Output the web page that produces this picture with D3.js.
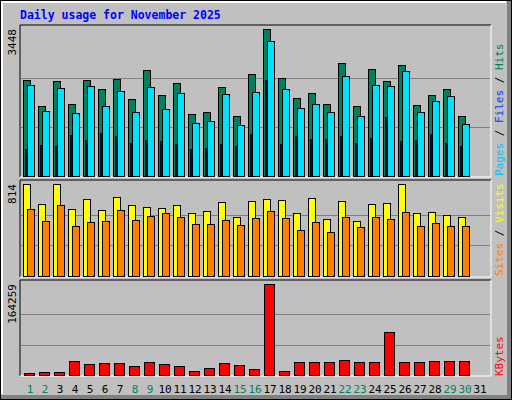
<!DOCTYPE html>
<html><head><meta charset="utf-8">
<script src="https://cdn.jsdelivr.net/npm/d3@7"></script>
<style>body{margin:0;background:#fff}</style>
</head><body><div id="chart"></div>
<script>
const days = d3.range(1, 32);
const weekend = [1, 2, 8, 9, 15, 16, 22, 23, 29, 30];
const hits = [2251,1642,2228,1689,2251,2041,2275,1806,2486,1900,2181,1454,1501,2088,1407,2392,3448,2298,1830,1947,1689,2650,1642,2509,2228,2603,1665,1900,2041,1407];
const files = [2134,1524,2064,1477,2111,1642,1994,1501,2088,1571,1947,1243,1290,1923,1196,1970,3166,2041,1595,1689,1501,2345,1407,2134,2111,2462,1501,1759,1877,1220];
const pages = [633,727,704,962,844,1009,938,774,844,821,751,633,657,751,704,985,2251,751,938,868,868,938,774,891,1383,821,844,985,774,704];
const visits = [814,637,814,593,681,584,699,628,611,602,628,557,575,655,522,664,681,672,557,690,504,664,487,637,646,814,557,566,540,522];
const sites = [593,487,628,443,478,487,584,496,531,557,522,460,460,496,452,510,575,513,407,478,389,522,434,522,504,566,443,469,443,443];
const kbytes = [4197,5996,5996,25778,20382,22181,22181,16785,23980,20382,16785,7794,13189,22181,18584,11390,164259,7794,23980,23980,23980,27577,23980,23980,77938,23980,23980,25778,25778,25778];
const panels = [
  {max: 3448, top: 25, bottom: 177, label: 3448},
  {max: 814, top: 180, bottom: 277, label: 814},
  {max: 164259, top: 280, bottom: 376, label: 164259}
];

const W = 512, H = 400, left = 20, right = 491;
const svg = d3.select('#chart').append('svg').attr('width', W).attr('height', H)
  .style('font-family', 'DejaVu Sans Mono, monospace');

// frame
svg.append('rect').attr('width', W).attr('height', H).attr('fill', '#c0c0c0');
svg.append('path').attr('d', `M${W-1},0V${H-1}H0`).attr('stroke', '#808080').attr('stroke-width', 8).attr('fill', 'none');
svg.append('rect').attr('x', 0.5).attr('y', 0.5).attr('width', W - 1).attr('height', H - 1).attr('fill', 'none').attr('stroke', '#000');
svg.append('path').attr('d', `M2,${H-6}V2H${W-6}`).attr('stroke', '#fff').attr('stroke-width', 2).attr('fill', 'none');
svg.append('text').attr('x', 20).attr('y', 19).attr('fill', '#0000ff')
  .attr('font-size', 11.5).attr('font-weight', 'bold').text('Daily usage for November 2025');

const x = d3.scaleBand().domain(days).range([left + 3, left + 3 + 15 * 31]);

function panel(p, series) {
  const y = d3.scaleLinear().domain([0, p.max]).range([p.bottom - 1, p.top + 4]);
  const g = svg.append('g');
  g.append('path').attr('d', `M${left},${p.bottom}V${p.top}H${right}`).attr('stroke', '#000').attr('fill', 'none');
  g.append('path').attr('d', `M${right},${p.top}V${p.bottom}H${left}`).attr('stroke', '#fff').attr('fill', 'none');
  [1 / 3, 2 / 3].forEach(f => g.append('line').attr('x1', left + 1).attr('x2', right - 1)
    .attr('y1', Math.round(y(p.max * f)) + 0.5).attr('y2', Math.round(y(p.max * f)) + 0.5)
    .attr('stroke', '#808080'));
  g.append('text').attr('transform', `translate(16,${p.top + 4}) rotate(-90)`)
    .attr('text-anchor', 'end').attr('font-size', 11).text(p.label);
  series.forEach(s => {
    g.selectAll(null).data(s.data).enter().append('rect')
      .attr('x', (d, i) => x(days[i]) + s.dx + 0.5)
      .attr('width', s.w)
      .attr('y', d => Math.round(y(d)) + 0.5)
      .attr('height', d => p.bottom - 1 - Math.round(y(d)))
      .attr('fill', s.color).attr('stroke', '#000').attr('stroke-width', s.sw || 1);
  });
}

panel(panels[0], [
  {data: hits, dx: 0, w: 7, color: '#00805c'},
  {data: files, dx: 4, w: 7, color: '#00e0ff'},
  {data: pages, dx: 2, w: 1, color: '#0040ff', sw: 0.8}
]);
panel(panels[1], [
  {data: visits, dx: 0, w: 7, color: '#ffff00'},
  {data: sites, dx: 4, w: 7, color: '#ff8000'}
]);
panel(panels[2], [
  {data: kbytes, dx: 1, w: 10, color: '#ff0000'}
]);

svg.selectAll('text.day').data(days).enter().append('text').attr('class', 'day')
  .attr('x', d => x(d) + 7).attr('y', 393).attr('text-anchor', 'middle').attr('font-size', 11)
  .attr('fill', d => weekend.includes(d) ? '#00805c' : '#000').text(d => d);

function sideLabel(yBottom, parts) {
  const t = svg.append('text').attr('transform', `translate(503,${yBottom}) rotate(-90)`).attr('font-size', 11);
  parts.forEach(([s, c]) => t.append('tspan').attr('fill', c).text(s));
}
sideLabel(176, [['Pages', '#00c0ff'], [' / ', '#000'], ['Files', '#0040ff'], [' / ', '#000'], ['Hits', '#00805c']]);
sideLabel(276, [['Sites', '#ff8000'], [' / ', '#000'], ['Visits', '#ffff00']]);
sideLabel(376, [['KBytes', '#ff0000']]);
</script></body></html>
